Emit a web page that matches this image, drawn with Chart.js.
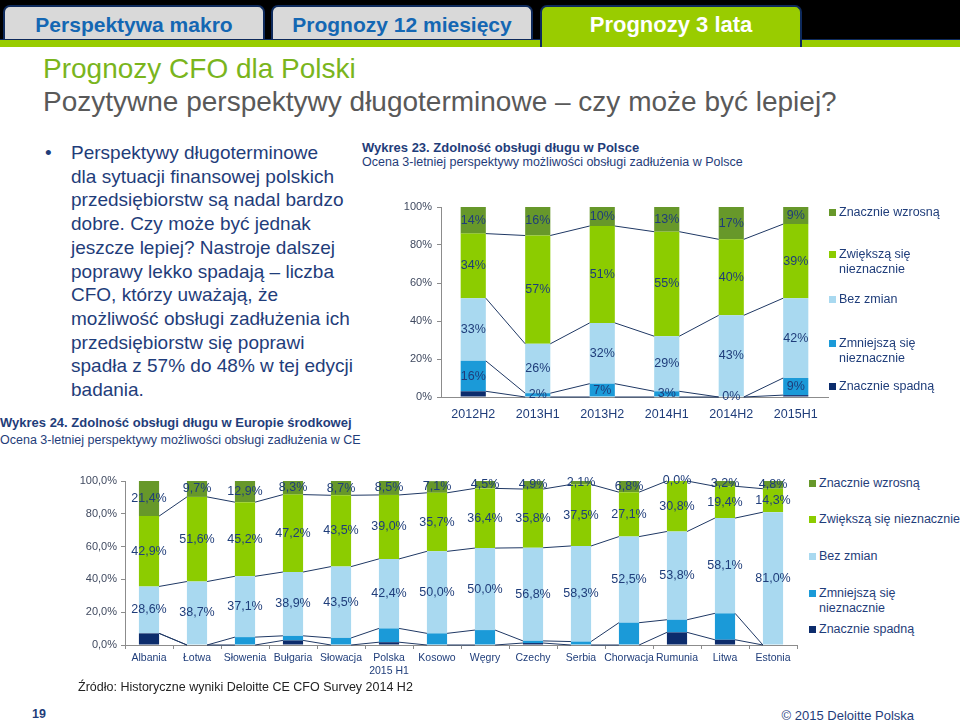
<!DOCTYPE html>
<html lang="pl">
<head>
<meta charset="UTF-8">
<script src="https://cdn.jsdelivr.net/npm/chart.js"></script>
<title>Prognozy CFO dla Polski</title>
<style>
  body { margin: 0; width: 960px; height: 722px; overflow: hidden; background: #fff; font-family: "Liberation Sans", Arial, sans-serif; position: relative; }
  .abs { position: absolute; }
  .topbar { left: 0; top: 0; width: 960px; height: 40px; background: #000; }
  .greenbar { left: 0; top: 39px; width: 960px; height: 8px; background: #99cc00; border-top: 1px solid #0e2a5c; box-sizing: border-box; }
  .tab { top: 5px; width: 262px; height: 34px; background: #d9d9d9; border: 2px solid #0e2a5c; border-bottom: none; border-radius: 7px 7px 0 0;
         font-family: "Liberation Sans Narrow", "Arial Narrow", "Liberation Sans", sans-serif; font-weight: bold; font-size: 21px; color: #1467b3;
         text-align: center; line-height: 36px; box-sizing: border-box; white-space: nowrap; }
  .tab.on { background: #99cc00; color: #fff; height: 42px; font-size: 22px; }
  .title { left: 43px; top: 52px; font-size: 28px; line-height: 34px; color: #7ab51d; }
  .subtitle { left: 43px; top: 85px; font-size: 28px; line-height: 34px; color: #595959; white-space: nowrap; }
  .bullet { left: 71px; top: 141px; font-size: 19px; line-height: 23.7px; color: #1f3d7a; }
  .dot { left: 45px; top: 141px; font-size: 19px; line-height: 23.7px; color: #1f3d7a; }
  .ctitle { font-size: 12.5px; line-height: 14px; color: #1f3d7a; white-space: nowrap; }
  .ctitle b { font-size: 13px; }
  .legend div { position: absolute; font-size: 12.5px; line-height: 15px; color: #1f3d7a; white-space: nowrap; }
  .legend span { position: absolute; width: 7px; height: 7px; }
</style>
</head>
<body>
<div class="abs topbar"></div>
<div class="abs tab" style="left:3px">Perspektywa makro</div>
<div class="abs tab" style="left:271px">Prognozy 12 miesięcy</div>
<div class="abs greenbar"></div>
<div class="abs tab on" style="left:540px">Prognozy 3 lata</div>

<div class="abs title">Prognozy CFO dla Polski</div>
<div class="abs subtitle">Pozytywne perspektywy długoterminowe – czy może być lepiej?</div>

<div class="abs dot">•</div>
<div class="abs bullet">Perspektywy długoterminowe<br>dla sytuacji finansowej polskich<br>przedsiębiorstw są nadal bardzo<br>dobre. Czy może być jednak<br>jeszcze lepiej? Nastroje dalszej<br>poprawy lekko spadają – liczba<br>CFO, którzy uważają, że<br>możliwość obsługi zadłużenia ich<br>przedsiębiorstw się poprawi<br>spadła z 57% do 48% w tej edycji<br>badania.</div>

<div class="abs ctitle" style="left:362px; top:141px"><b>Wykres 23. Zdolność obsługi długu w Polsce</b><br>Ocena 3-letniej perspektywy możliwości obsługi zadłużenia w Polsce</div>
<div class="abs ctitle" style="left:0px; top:415px; line-height:16.5px"><b>Wykres 24. Zdolność obsługi długu w Europie środkowej</b><br>Ocena 3-letniej perspektywy możliwości obsługi zadłużenia w CE</div>

<canvas id="wykresPolska" class="abs" style="left:380px; top:195px" width="450" height="232"></canvas>
<canvas id="wykresCE" class="abs" style="left:60px; top:470px" width="745" height="212"></canvas>

<div class="legend" id="legendaPolska"></div>
<div class="legend" id="legendaCE"></div>

<div class="abs" style="left:78px; top:680px; font-size:12.5px; color:#222; white-space:nowrap">Źródło: Historyczne wyniki Deloitte CE CFO Survey 2014 H2</div>
<div class="abs" style="left:32px; top:707px; font-size:12.5px; font-weight:bold; color:#1f3d7a">19</div>
<div class="abs" style="left:760px; top:708px; width:154px; text-align:right; font-size:13px; color:#1f3d7a; white-space:nowrap">© 2015 Deloitte Polska</div>

<script>
  // Wykres 23 - Polska
  const okresy = ['2012H2', '2013H1', '2013H2', '2014H1', '2014H2', '2015H1'];
  const plSpadna = [3, 0, 0, 0, 0, 1];
  const plZmniejsza = [16, 2, 7, 3, 0, 9];
  const plBezZmian = [33, 26, 32, 29, 43, 42];
  const plZwieksza = [34, 57, 51, 55, 40, 39];
  const plWzrosna = [14, 16, 10, 13, 17, 9];
  const procentyPL = [0, 20, 40, 60, 80, 100];

  // Wykres 24 - Europa srodkowa
  const kraje = ['Albania', 'Łotwa', 'Słowenia', 'Bułgaria', 'Słowacja', ['Polska', '2015 H1'], 'Kosowo', 'Węgry', 'Czechy', 'Serbia', 'Chorwacja', 'Rumunia', 'Litwa', 'Estonia'];
  const ceSpadna = [7.1, 0, 0, 2.8, 0, 1.7, 0, 0, 1.2, 0, 0, 7.7, 3.2, 0];
  const ceZmniejsza = [0, 0, 4.8, 2.8, 4.3, 8.4, 7.1, 9.1, 1.3, 2.1, 13.6, 7.7, 16.1, 0];
  const ceBezZmian = [28.6, 38.7, 37.1, 38.9, 43.5, 42.4, 50.0, 50.0, 56.8, 58.3, 52.5, 53.8, 58.1, 81.0];
  const ceZwieksza = [42.9, 51.6, 45.2, 47.2, 43.5, 39.0, 35.7, 36.4, 35.8, 37.5, 27.1, 30.8, 19.4, 14.3];
  const ceWzrosna = [21.4, 9.7, 12.9, 8.3, 8.7, 8.5, 7.1, 4.5, 4.9, 2.1, 6.8, 0.0, 3.2, 4.8];
  const procentyCE = [0, 20, 40, 60, 80, 100];

  const nazwy = ['Znacznie spadną', 'Zmniejszą się nieznacznie', 'Bez zmian', 'Zwiększą się nieznacznie', 'Znacznie wzrosną'];
  const kolory = ['#0c2c6c', '#1b9ad8', '#a9d9f0', '#8ccc00', '#67982a'];
  const granat = '#1f3d7a';

  Chart.defaults.font.family = '"Liberation Sans", Arial, sans-serif';
  Chart.defaults.color = granat;

  // linie serii (jak w Excelu) i etykiety na srodku segmentow
  const liniePlugin = {
    id: 'linieSerii',
    afterDatasetsDraw(chart, args, opts) {
      const c = chart.ctx;
      const n = chart.data.datasets.length;
      c.save();
      c.strokeStyle = '#1f3864';
      c.lineWidth = 1;
      for (let d = 0; d < n - 1; d++) {
        const bars = chart.getDatasetMeta(d).data;
        for (let i = 0; i < bars.length - 1; i++) {
          const a = bars[i], b = bars[i + 1];
          c.beginPath();
          c.moveTo(a.x + a.width / 2, a.y);
          c.lineTo(b.x - b.width / 2, b.y);
          c.stroke();
        }
      }
      c.fillStyle = granat;
      c.font = opts.rozmiar + 'px "Liberation Sans", Arial, sans-serif';
      c.textAlign = 'center';
      c.textBaseline = 'middle';
      opts.etykiety.forEach(d => {
        const bars = chart.getDatasetMeta(d).data;
        bars.forEach((el, i) => {
          const v = chart.data.datasets[d].data[i];
          c.fillText(opts.format(v), el.x, (el.y + el.base) / 2);
        });
      });
      c.restore();
    }
  };

  function zbiory(serie, szer) {
    return serie.map((s, i) => ({
      label: nazwy[i], data: s, backgroundColor: kolory[i],
      barPercentage: szer, categoryPercentage: 1
    }));
  }

  new Chart(document.getElementById('wykresPolska'), {
    type: 'bar',
    data: { labels: okresy, datasets: zbiory([plSpadna, plZmniejsza, plBezZmian, plZwieksza, plWzrosna], 0.39) },
    plugins: [liniePlugin],
    options: {
      responsive: false, animation: false,
      layout: { padding: { top: 12, right: 2, left: 0, bottom: 0 } },
      plugins: {
        legend: { display: false }, tooltip: { enabled: false },
        linieSerii: { etykiety: [1, 2, 3, 4], rozmiar: 12.5, format: v => v + '%' }
      },
      scales: {
        x: {
          stacked: true,
          grid: { display: false },
          border: { color: '#8c8c8c' },
          ticks: { font: { size: 12.5 }, color: granat, padding: 2 },
          afterFit: s => { s.height = 30; }
        },
        y: {
          stacked: true, min: 0, max: 100,
          afterBuildTicks: s => { s.ticks = procentyPL.map(v => ({ value: v })); },
          grid: { drawOnChartArea: false, tickLength: 4, color: '#8c8c8c' },
          border: { color: '#8c8c8c' },
          ticks: { font: { size: 11 }, color: '#404a60', padding: 5, callback: v => v + '%' },
          afterFit: s => { s.width = 61; }
        }
      }
    }
  });

  new Chart(document.getElementById('wykresCE'), {
    type: 'bar',
    data: { labels: kraje, datasets: zbiory([ceSpadna, ceZmniejsza, ceBezZmian, ceZwieksza, ceWzrosna], 0.42) },
    plugins: [liniePlugin],
    options: {
      responsive: false, animation: false,
      layout: { padding: { top: 11, right: 8, left: 0, bottom: 0 } },
      plugins: {
        legend: { display: false }, tooltip: { enabled: false },
        linieSerii: { etykiety: [2, 3, 4], rozmiar: 12.5, format: v => v.toFixed(1).replace('.', ',') + '%' }
      },
      scales: {
        x: {
          stacked: true,
          grid: { drawOnChartArea: false, tickLength: 4, color: '#8c8c8c' },
          border: { color: '#8c8c8c' },
          ticks: { font: { size: 10.5 }, color: granat, padding: 3, maxRotation: 0, autoSkip: false },
          afterFit: s => { s.height = 37; }
        },
        y: {
          stacked: true, min: 0, max: 100,
          afterBuildTicks: s => { s.ticks = procentyCE.map(v => ({ value: v })); },
          grid: { drawOnChartArea: false, tickLength: 4, color: '#8c8c8c' },
          border: { color: '#8c8c8c' },
          ticks: { font: { size: 11 }, color: '#404a60', padding: 4, callback: v => v.toFixed(1).replace('.', ',') + '%' },
          afterFit: s => { s.width = 65; }
        }
      }
    }
  });

  // legendy jako HTML (tekst zawijany jak w oryginale)
  function legenda(id, x, pozycje, teksty) {
    const el = document.getElementById(id);
    teksty.forEach((t, i) => {
      const k = kolory[4 - i];
      el.innerHTML += `<span style="left:${x}px; top:${pozycje[i] + 4}px; background:${k}"></span>` +
        `<div style="left:${x + 10}px; top:${pozycje[i]}px">${t}</div>`;
    });
  }
  legenda('legendaPolska', 829, [205, 247, 292, 336, 379],
    ['Znacznie wzrosną', 'Zwiększą się<br>nieznacznie', 'Bez zmian', 'Zmniejszą się<br>nieznacznie', 'Znacznie spadną']);
  legenda('legendaCE', 809, [476, 512, 549, 586, 622],
    ['Znacznie wzrosną', 'Zwiększą się nieznacznie', 'Bez zmian', 'Zmniejszą się<br>nieznacznie', 'Znacznie spadną']);
</script>
</body>
</html>
